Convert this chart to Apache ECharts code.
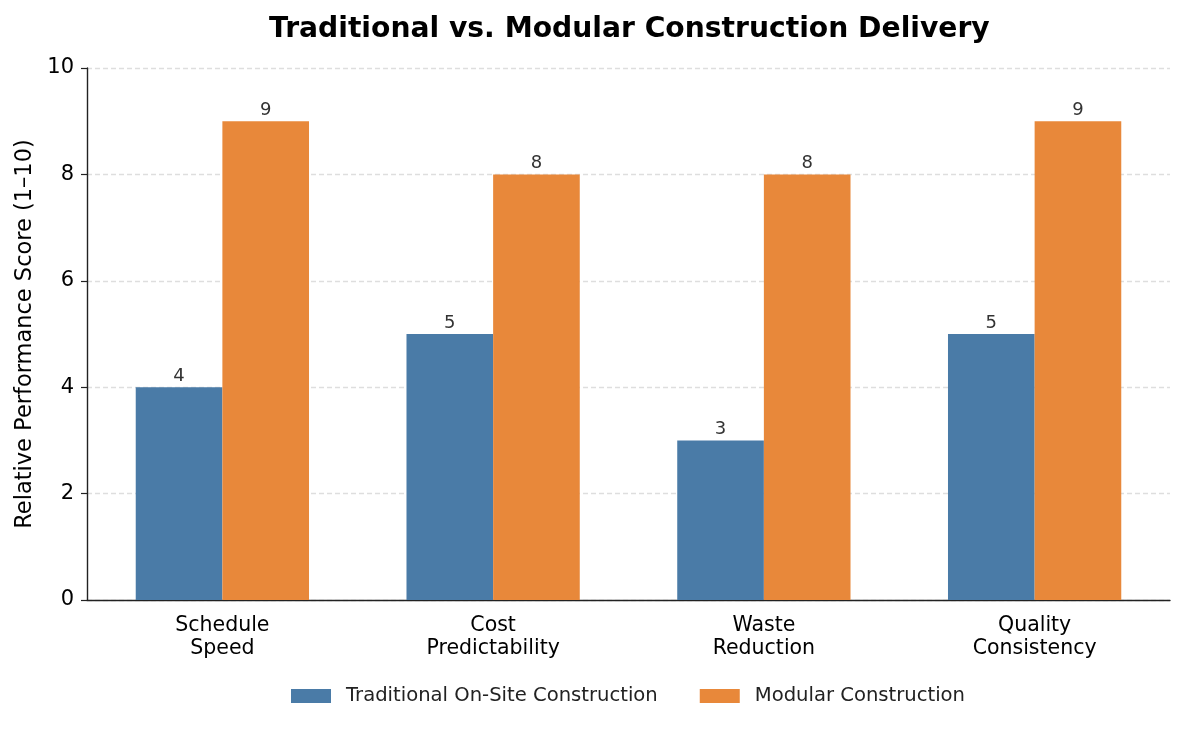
<!DOCTYPE html>
<html>
<head>
<meta charset="utf-8">
<script src="https://cdn.jsdelivr.net/npm/echarts@6/dist/echarts.min.js"></script>
<style>
  html, body { margin: 0; padding: 0; background: #fff; }
  #chart { width: 1185px; height: 729px; }
</style>
</head>
<body>
<div id="chart"></div>
<script>
var categories = ['Schedule\nSpeed', 'Cost\nPredictability', 'Waste\nReduction', 'Quality\nConsistency'];
var traditional = [4, 5, 3, 5];
var modular = [9, 8, 8, 9];
var yTicks = [0, 2, 4, 6, 8, 10];

var font = 'DejaVu Sans';
var myChart = echarts.init(document.getElementById('chart'));

var labelStyle = {
    show: true,
    position: 'top',
    distance: 2,
    color: '#333',
    fontSize: 18,
    fontFamily: font
};

myChart.setOption({
    backgroundColor: '#fff',
    animation: false,
    textStyle: { fontFamily: font },
    title: {
        text: 'Traditional vs. Modular Construction Delivery',
        left: 264,
        top: 11,
        textStyle: { fontSize: 28.2, fontWeight: 'bold', color: '#000', fontFamily: font }
    },
    grid: { left: 87, right: 15, top: 68, bottom: 129, outerBoundsMode: 'none', containLabel: false },
    legend: {
        bottom: 18,
        left: 286,
        itemWidth: 40,
        itemHeight: 14,
        itemGap: 42,
        icon: 'rect',
        textStyle: { fontSize: 19.6, color: '#222', fontFamily: font, padding: [0, 0, 0, 10] },
        data: ['Traditional On-Site Construction', 'Modular Construction']
    },
    xAxis: {
        type: 'category',
        data: categories,
        axisLine: { lineStyle: { color: '#222', width: 1.4 } },
        axisTick: { alignWithLabel: true, length: 6, lineStyle: { color: '#222', width: 1.2 } },
        axisLabel: { fontSize: 20.5, color: '#000', margin: 14, lineHeight: 23, fontFamily: font }
    },
    yAxis: {
        type: 'value',
        min: yTicks[0],
        max: yTicks[yTicks.length - 1],
        interval: 2,
        name: 'Relative Performance Score (1–10)',
        nameLocation: 'middle',
        nameGap: 44,
        nameTextStyle: { fontSize: 22.5, color: '#000', fontFamily: font },
        axisLine: { show: true, lineStyle: { color: '#222', width: 1.4 } },
        axisTick: { show: true, length: 6, lineStyle: { color: '#222', width: 1.2 } },
        axisLabel: { fontSize: 21, color: '#000', margin: 13, fontFamily: font },
        splitLine: { show: true, lineStyle: { color: '#dedede', type: [5, 3], width: 1.3 } }
    },
    series: [
        {
            name: 'Traditional On-Site Construction',
            type: 'bar',
            data: traditional,
            barWidth: '32%',
            barGap: '0%',
            itemStyle: { color: '#4a7ba7' },
            label: labelStyle
        },
        {
            name: 'Modular Construction',
            type: 'bar',
            data: modular,
            barWidth: '32%',
            itemStyle: { color: '#e8883a' },
            label: labelStyle
        }
    ]
});
</script>
</body>
</html>
